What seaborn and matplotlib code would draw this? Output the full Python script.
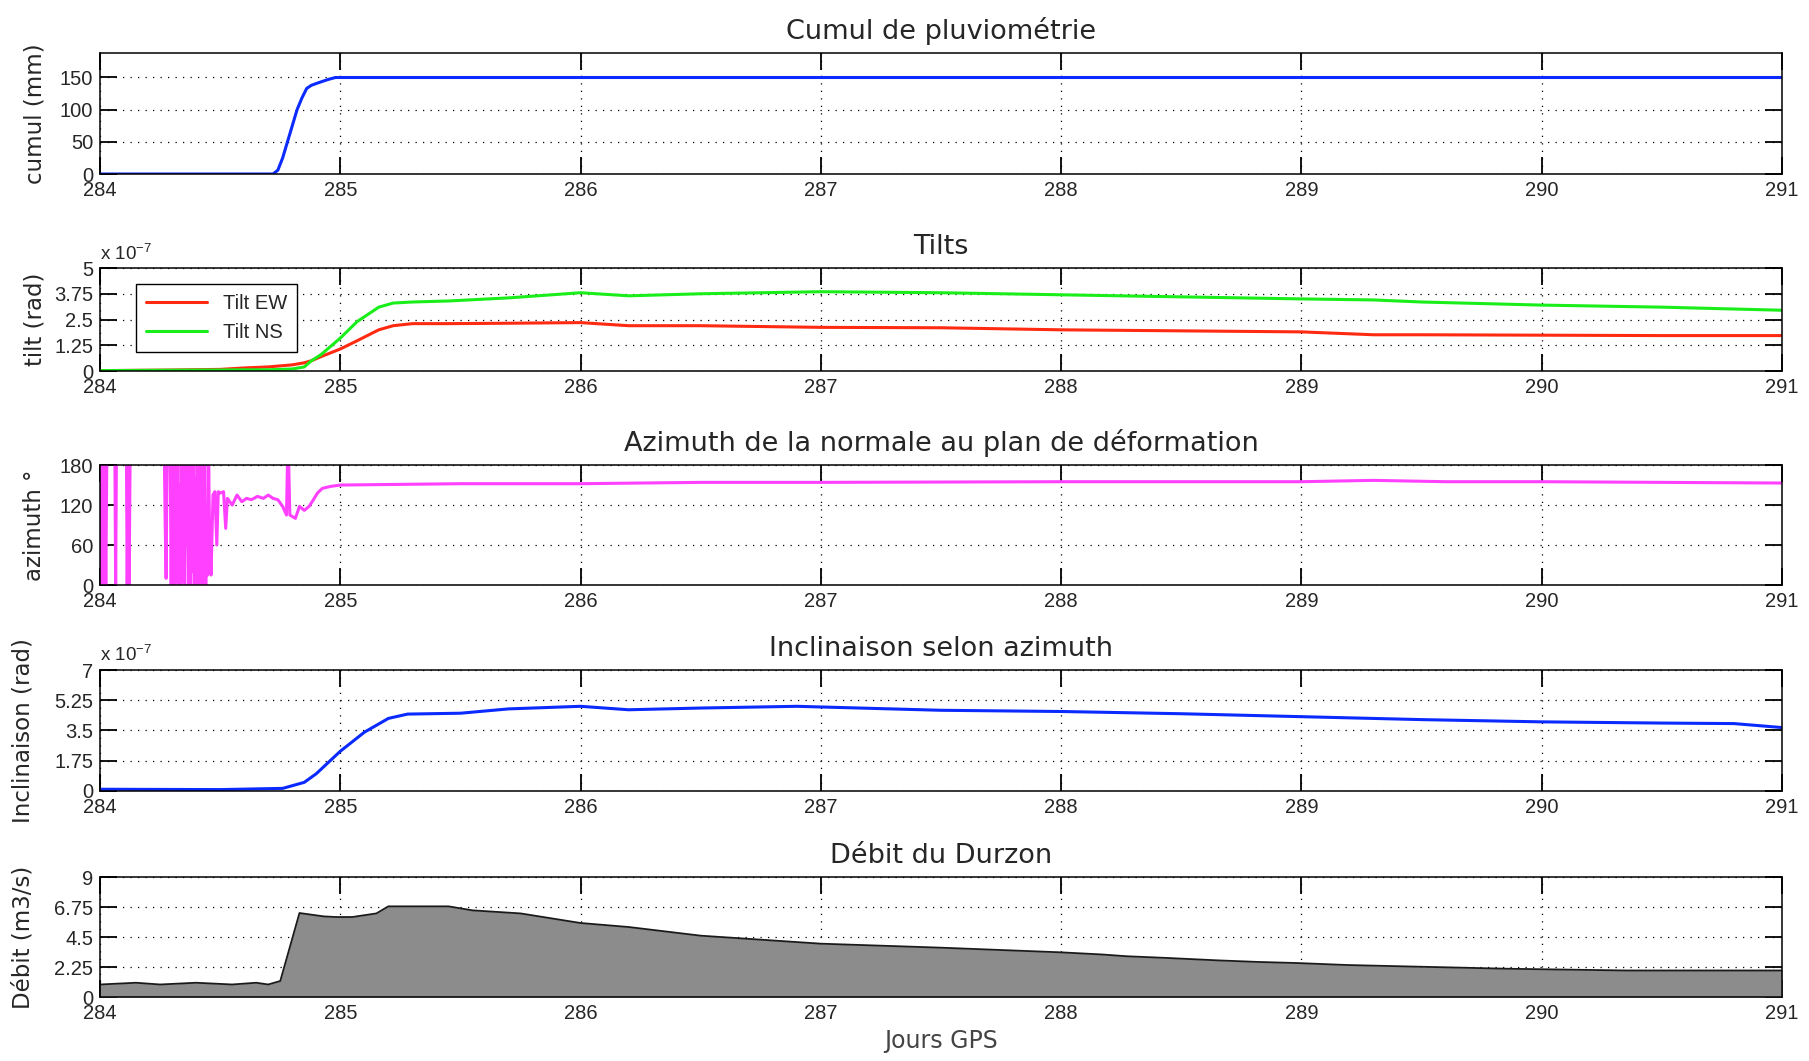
import matplotlib
matplotlib.use("Agg")
import matplotlib.pyplot as plt
import seaborn as sns
from matplotlib import font_manager

# --- data (days GPS) ---
rain_days = [284.0, 284.72, 284.74, 284.76, 284.78, 284.80, 284.82, 284.84, 284.86,
             284.88, 284.91, 284.95, 284.98, 285.2, 291.0]
rain_mm = [0, 0, 6, 25, 50, 75, 100, 118, 133, 138, 142, 147, 150, 150, 150]

tilt_days = [284.0, 284.3, 284.5, 284.6, 284.7, 284.8, 284.85, 284.88, 284.92, 285.0,
             285.07, 285.16, 285.22, 285.3, 285.45, 285.7, 286.0, 286.2, 286.5, 287.0,
             287.5, 288.0, 288.5, 289.0, 289.3, 289.5, 290.0, 290.5, 291.0]
tilt_ew = [0.02, 0.05, 0.08, 0.15, 0.2, 0.3, 0.4, 0.5, 0.7, 1.07, 1.47, 2.0, 2.2, 2.3,
           2.3, 2.32, 2.35, 2.2, 2.2, 2.12, 2.1, 2.0, 1.95, 1.9, 1.76, 1.76, 1.74, 1.72, 1.72]
tilt_ns = [0.02, 0.04, 0.05, 0.06, 0.06, 0.1, 0.2, 0.5, 0.8, 1.6, 2.4, 3.1, 3.3, 3.35,
           3.4, 3.55, 3.8, 3.65, 3.75, 3.85, 3.8, 3.7, 3.6, 3.5, 3.45, 3.35, 3.2, 3.1, 2.95]

az_days = [284.000, 284.003, 284.006, 284.009, 284.012, 284.016, 284.020, 284.024, 284.028,
           284.062, 284.065, 284.068,
           284.110, 284.113, 284.117, 284.121, 284.125, 284.129,
           284.268, 284.271, 284.275, 284.279, 284.283, 284.287,
           284.292, 284.296, 284.300, 284.304, 284.308, 284.312, 284.316, 284.320,
           284.324, 284.328, 284.332, 284.336, 284.340, 284.344, 284.348, 284.352,
           284.356, 284.360, 284.364, 284.368, 284.372, 284.376, 284.380, 284.384,
           284.388, 284.392, 284.396, 284.400, 284.404, 284.408, 284.412, 284.416,
           284.420, 284.424, 284.428, 284.432, 284.436, 284.440, 284.444, 284.448,
           284.452, 284.456,
           284.462, 284.470, 284.478, 284.486, 284.492, 284.500, 284.514, 284.523,
           284.530, 284.550, 284.570, 284.590, 284.610, 284.630, 284.655, 284.680,
           284.700, 284.720, 284.740, 284.760, 284.776, 284.780, 284.785, 284.790,
           284.813, 284.830, 284.850, 284.870, 284.888, 284.905, 284.925, 284.960,
           285.0, 285.5, 286.0, 286.5, 287.0, 288.0, 289.0, 289.3, 289.6, 290.0,
           290.5, 291.0]
az_deg = [184, 60, -4, 184, -4, 10, 184, -4, 184,
          184, -4, 184,
          184, -4, 184, 0, 184, 184,
          184, 95, 10, 184, 184, 184,
          184, 0, 184, -4, 170, 2, 184, 30,
          184, -4, 150, 0, 184, 5, 184, -4,
          184, 60, 184, -4, 180, 0, 184, 20,
          184, -4, 160, 0, 184, 10, 184, -4,
          184, 40, 184, 0, 184, -4, 120, 15,
          184, 70,
          15, 135, 140, 60, 140, 138, 140, 85,
          130, 120, 135, 125, 130, 128, 133, 130,
          135, 130, 128, 118, 105, 184, 184, 105,
          100, 118, 112, 118, 128, 138, 145, 148,
          150, 152, 152, 154, 154, 155, 155, 157, 155, 155,
          154, 153]

incl_days = [284.0, 284.5, 284.76, 284.85, 284.9, 285.0, 285.1, 285.2, 285.28, 285.5,
             285.7, 286.0, 286.2, 286.5, 286.9, 287.5, 288.0, 288.5, 289.0, 289.5,
             290.0, 290.5, 290.8, 291.0]
incl = [0.1, 0.08, 0.15, 0.5, 1.0, 2.3, 3.4, 4.2, 4.45, 4.5, 4.75, 4.9, 4.7, 4.8, 4.9,
        4.67, 4.6, 4.47, 4.3, 4.13, 4.0, 3.93, 3.9, 3.67]

debit_days = [284.0, 284.15, 284.25, 284.4, 284.55, 284.65, 284.7, 284.75, 284.83, 284.87,
              284.93, 284.98, 285.05, 285.15, 285.2, 285.45, 285.55, 285.75, 286.0, 286.2,
              286.5, 287.0, 287.5, 288.0, 288.17, 288.27, 288.44, 288.65, 288.82, 288.98,
              289.19, 289.45, 289.86, 290.35, 291.0]
debit = [0.94, 1.07, 0.94, 1.07, 0.94, 1.07, 0.94, 1.2, 6.3, 6.2, 6.05, 6.0, 6.0, 6.27,
         6.8, 6.8, 6.5, 6.27, 5.55, 5.25, 4.6, 4.0, 3.7, 3.35, 3.19, 3.06, 2.93, 2.75,
         2.63, 2.55, 2.4, 2.29, 2.12, 1.99, 1.99]

day_ticks = [284, 285, 286, 287, 288, 289, 290, 291]

# --- style (matlab-like: ticks inside on all four sides, dotted grid) ---
sns.set_style("ticks")
available = {f.name for f in font_manager.fontManager.ttflist}
tick_font = "Liberation Sans Narrow" if "Liberation Sans Narrow" in available else "Liberation Sans"
tick_size = 17 if tick_font == "Liberation Sans Narrow" else 14.5
plt.rcParams.update({
    "font.family": ["DejaVu Sans"],
    "mathtext.fontset": "custom",
    "mathtext.rm": tick_font,
    "xtick.direction": "in",
    "ytick.direction": "in",
    "xtick.top": True,
    "xtick.bottom": True,
    "ytick.left": True,
    "ytick.right": True,
})

fig = plt.figure(figsize=(18.09, 10.61), dpi=100)

left, width = 0.0553, 0.9298
panels = [
    (0.8360, 0.1140),
    (0.6503, 0.0971),
    (0.4486, 0.1131),
    (0.2545, 0.1140),
    (0.0603, 0.1131),
]
axes = [fig.add_axes([left, b, width, h]) for b, h in panels]

lw = 2.2

# Cumul de pluviométrie
ax = axes[0]
sns.lineplot(x=rain_days, y=rain_mm, ax=ax, color="#0a2aff", lw=lw, estimator=None, sort=False)
ax.set_ylim(0, 188)
ax.set_yticks([0, 50, 100, 150])
ax.set_yticklabels(["0", "50", "100", "150"])
ax.set_title("Cumul de pluviométrie", fontsize=19.5, pad=10)
ax.set_ylabel("cumul (mm)", fontsize=16.5)

# Tilts
ax = axes[1]
sns.lineplot(x=tilt_days, y=tilt_ew, ax=ax, color="#ff2a10", lw=lw, estimator=None,
             sort=False, label="Tilt EW")
sns.lineplot(x=tilt_days, y=tilt_ns, ax=ax, color="#1aee1a", lw=lw, estimator=None,
             sort=False, label="Tilt NS")
ax.set_ylim(0, 5)
ax.set_yticks([0, 1.25, 2.5, 3.75, 5])
ax.set_yticklabels(["0", "1.25", "2.5", "3.75", "5"])
ax.set_title("Tilts", fontsize=19.5, pad=10)
ax.set_ylabel("tilt (rad)", fontsize=16.5)
leg = ax.legend(loc="upper left", bbox_to_anchor=(0.0214, 0.845), borderaxespad=0,
                fancybox=False, framealpha=1, edgecolor="black", handlelength=3.0,
                prop={"family": tick_font, "size": tick_size}, borderpad=0.5,
                labelspacing=0.5)
leg.get_frame().set_linewidth(1.0)

# Azimuth
ax = axes[2]
sns.lineplot(x=az_days, y=az_deg, ax=ax, color="#ff40ff", lw=lw, estimator=None, sort=False)
ax.set_ylim(0, 180)
ax.set_yticks([0, 60, 120, 180])
ax.set_yticklabels(["0", "60", "120", "180"])
ax.set_title("Azimuth de la normale au plan de déformation", fontsize=19.5, pad=10)
ax.set_ylabel("azimuth °", fontsize=16.5)

# Inclinaison
ax = axes[3]
sns.lineplot(x=incl_days, y=incl, ax=ax, color="#0a2aff", lw=lw, estimator=None, sort=False)
ax.set_ylim(0, 7)
ax.set_yticks([0, 1.75, 3.5, 5.25, 7])
ax.set_yticklabels(["0", "1.75", "3.5", "5.25", "7"])
ax.set_title("Inclinaison selon azimuth", fontsize=19.5, pad=10)
ax.set_ylabel("Inclinaison (rad)", fontsize=16.5)

# Débit
ax = axes[4]
ax.fill_between(debit_days, debit, 0, color="#8c8c8c", lw=0)
sns.lineplot(x=debit_days, y=debit, ax=ax, color="#1a1a1a", lw=1.3, estimator=None, sort=False)
ax.set_ylim(0, 9)
ax.set_yticks([0, 2.25, 4.5, 6.75, 9])
ax.set_yticklabels(["0", "2.25", "4.5", "6.75", "9"])
ax.set_title("Débit du Durzon", fontsize=19.5, pad=10)
ax.set_ylabel("Débit (m3/s)", fontsize=16.5)
ax.set_xlabel("Jours GPS", fontsize=17, color="#444444", labelpad=4)

label_x = [-0.032, -0.032, -0.032, -0.039, -0.039]
for ax, lx in zip(axes, label_x):
    ax.set_xlim(284, 291)
    ax.set_xticks(day_ticks)
    ax.set_xticklabels([str(d) for d in day_ticks])
    ax.grid(True, color="black", linestyle=(0, (1, 5)), lw=0.9)
    ax.tick_params(which="major", direction="in", length=12, width=1.3, top=True,
                   right=True, bottom=True, left=True, color="black",
                   labelsize=tick_size, pad=5)
    for lab in ax.get_xticklabels() + ax.get_yticklabels():
        lab.set_family(tick_font)
    for s in ax.spines.values():
        s.set_visible(True)
        s.set_linewidth(1.1)
        s.set_color("black")
    ax.yaxis.set_label_coords(lx, 0.5)
    ax.set_facecolor("white")

for ax in (axes[1], axes[3]):
    ax.text(0.0, 1.04, r"x 10$^{-7}$", transform=ax.transAxes, ha="left", va="bottom",
            fontsize=tick_size - 1, family=tick_font)

fig.savefig("out.png", dpi=100, facecolor="white")
